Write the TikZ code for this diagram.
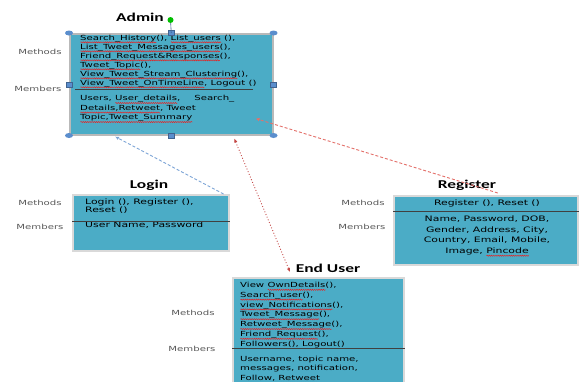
\documentclass[tikz,border=0pt]{standalone}
\usepackage{fontspec}
\newfontfamily\wsans[FakeStretch=1.45]{DejaVu Sans}
\newfontfamily\wtitle[FakeStretch=1.45]{Carlito}
\usetikzlibrary{positioning,arrows.meta,shapes.geometric,decorations.pathmorphing}
\definecolor{classfill}{RGB}{75,172,198}
\definecolor{handleblue}{RGB}{91,142,205}
\definecolor{loginlink}{RGB}{125,165,215}
\definecolor{registerlink}{RGB}{228,112,106}
\definecolor{userlink}{RGB}{196,72,70}
\definecolor{spellred}{RGB}{235,30,30}
\newsavebox\spellbox
\newcommand\spellmark[1]{\sbox\spellbox{#1}\rlap{\tikz[baseline=2.3pt]\draw[spellred,line width=0.45pt,decorate,decoration={snake,amplitude=0.6pt,segment length=2.2pt}] (0pt,0pt) -- (\wd\spellbox,0pt);}\usebox\spellbox}
\tikzset{
      classbox/.style={draw=gray!30,line width=1.5pt,fill=classfill,anchor=north west,inner sep=0pt},
      boxtext/.style={align=left,inner sep=0pt,anchor=north west,font=\wsans\fontsize{7}{9}\selectfont},
      sidelabel/.style={inner sep=0pt,text=black!65,font=\wsans\fontsize{7}{8}\selectfont},
      boxtitle/.style={inner sep=0pt,font=\wtitle\bfseries\fontsize{12}{14}\selectfont},
      sepline/.style={draw=black!75,line width=0.8pt},
      cornerhandle/.style={ellipse,fill=handleblue,minimum width=8pt,minimum height=5pt,inner sep=0pt},
      sidehandle/.style={rectangle,fill=handleblue,draw=handleblue!70!black,line width=0.3pt,minimum width=6pt,minimum height=5pt,inner sep=0pt},
      link/.style={line width=0.9pt,-{Latex[length=4pt,width=3.5pt]}}
    }

\begin{document}
\begin{tikzpicture}[x=1pt,y=-1pt]
\clip (0,0) rectangle (580,381);
\fill[white] (0,0) rectangle (580,381);

% admin
\node[classbox,draw=gray!55,minimum width=203pt,minimum height=101pt] (admin) at (69,33) {};
\node[boxtitle] (admintitle) at (140,17) {Admin};
\node[boxtext] (adminm) at (80,34.5) {\spellmark{Search\_History}(), \spellmark{List\_users} (),\\
  \spellmark{List\_Tweet\_Messages\_users}(),\\
  \spellmark{Friend\_Request\&Responses}(),\\
  \spellmark{Tweet\_Topic}(),\\
  \spellmark{View\_Tweet\_Stream\_Clustering}(),\\
  \spellmark{View\_Tweet\_OnTimeLine}, Logout ()};
\node[boxtext,font=\wsans\fontsize{7}{9.5}\selectfont] (admina) at (80,95.2) {Users, \spellmark{User\_details},\hspace{14pt}Search\_\\
  \spellmark{Details,Retweet}, Tweet\\
  \spellmark{Topic,Tweet\_Summary}};
\draw[sepline] (75,89) -- (253,89);
\node[sidelabel] (adminml) at (40,52) {Methods};
\node[sidelabel] (adminal) at (38,89) {Members};
\foreach \c in {north west,north east,south west,south east}
  \node[cornerhandle] at (admin.\c) {};
\foreach \s in {north,south,west,east}
  \node[sidehandle] at (admin.\s) {};
\node[circle,fill=green!75!black,minimum size=6pt,inner sep=0pt] (rot) at (170.5,20) {};
\draw[handleblue!70!black,line width=0.6pt] (rot) -- (admin.north);

% login
\node[classbox,minimum width=156pt,minimum height=56pt] (login) at (72,194) {};
\node[boxtitle] (logintitle) at (149,185) {Login};
\node[boxtext,font=\wsans\fontsize{7.5}{8}\selectfont] (loginm) at (85,198.4) {Login (), Register (),\\ Reset ()};
\node[boxtext,font=\wsans\fontsize{7.5}{8}\selectfont] (logina) at (85,221.4) {User Name, Password};
\draw[sepline] (login.west |- 0,221) -- (login.east |- 0,221);
\node[sidelabel] (loginml) at (40,203) {Methods};
\node[sidelabel] (loginal) at (40,227) {Members};

% register
\node[classbox,minimum width=184pt,minimum height=69pt] (register) at (393,195) {};
\node[boxtitle] (registertitle) at (467,185) {Register};
\node[boxtext,align=center,anchor=north,font=\wsans\fontsize{7.5}{8}\selectfont] (registerm) at (487,199.4) {Register (), Reset ()};
\node[boxtext,align=center,anchor=north,font=\wsans\fontsize{7.5}{10.7}\selectfont] (registera) at (487,215.4) {Name, Password, DOB,\\
  Gender, Address, City,\\
  Country, Email, Mobile,\\
  Image, \spellmark{Pincode}};
\draw[sepline] (register.west |- 0,211) -- (register.east |- 0,211);
\node[sidelabel] (registerml) at (363,203) {Methods};
\node[sidelabel] (registeral) at (362,227) {Members};

% end user
\node[classbox,minimum width=171pt,minimum height=120pt] (enduser) at (232,277) {};
\node[boxtitle] (endusertitle) at (328,268) {End User};
\node[boxtext,font=\wsans\fontsize{7}{9.8}\selectfont] (enduserm) at (240,282) {View \spellmark{OwnDetails}(),\\
  \spellmark{Search\_user}(),\\
  \spellmark{view\_Notifications}(),\\
  \spellmark{Tweet\_Message}(),\\
  \spellmark{Retweet\_Message}(),\\
  \spellmark{Friend\_Request}(),\\
  Followers(), Logout()};
\node[boxtext,font=\wsans\fontsize{7}{9.8}\selectfont] (endusera) at (240,355.5) {Username, topic name,\\
  messages, notification,\\
  Follow, \spellmark{Retweet}};
\draw[sepline] (enduser.west |- 0,348) -- (enduser.east |- 0,348);
\node[sidelabel] (enduserml) at (193,313) {Methods};
\node[sidelabel] (enduseral) at (192,349) {Members};

% links
\draw[link,loginlink,dash pattern=on 3pt off 2pt] ([xshift=-6pt]login.north east) -- ([xshift=46pt,yshift=-1pt]admin.south west);
\draw[link,registerlink,dash pattern=on 3pt off 2pt] ([xshift=12pt,yshift=2pt]register.north) -- ([xshift=-18pt,yshift=17pt]admin.south east);
\draw[link,{Latex[length=4pt,width=3.5pt]}-{Latex[length=4pt,width=3.5pt]},userlink,dotted] ([xshift=63pt,yshift=-3pt]admin.south) -- ([xshift=58pt,yshift=5pt]enduser.north west);
\end{tikzpicture}
\end{document}
